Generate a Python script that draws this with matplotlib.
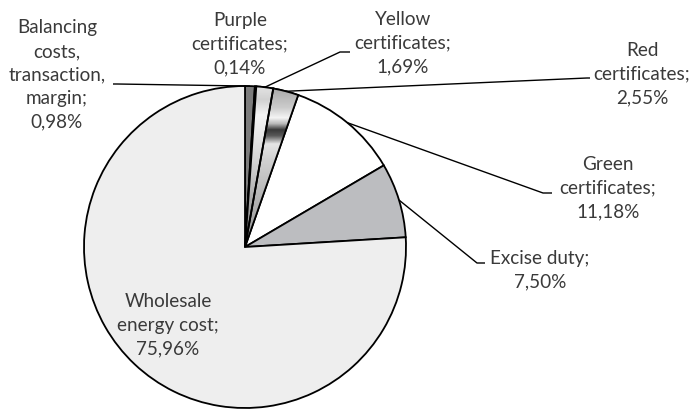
import numpy as np
import matplotlib
matplotlib.use("Agg")
import matplotlib.pyplot as plt
from matplotlib.patches import Wedge

# ---- data ----
categories = ["Balancing\ncosts,\ntransaction,\nmargin", "Purple\ncertificates",
              "Yellow\ncertificates", "Red\ncertificates", "Green\ncertificates",
              "Excise duty", "Wholesale\nenergy cost"]
values = [0.98, 0.14, 1.69, 2.55, 11.18, 7.50, 75.96]

# ---- styling / layout ----
W, H = 694, 411
colors = ["#7c7c7c", "#111111", "#e2e2e2", "#a9a9a9", "#ffffff", "#bcbdc0", "#eeeeee"]
cx, cy, R = 245, 247, 161

def P(y):
    return H - y

plt.rcParams['font.family'] = ['Lato', 'DejaVu Sans']
fig = plt.figure(figsize=(6.94, 4.11), dpi=100)
ax = fig.add_axes([0, 0, 1, 1])

wedges, _ = ax.pie(values, colors=colors, startangle=90, counterclock=False,
                   center=(cx, P(cy)), radius=R, frame=True,
                   wedgeprops=dict(edgecolor="black", linewidth=1.3))

# metallic gradients for yellow and red slices
def grad(stops, y0=80, y1=252):
    ys = np.arange(y0, y1)
    sy = [s[0] for s in stops]
    sv = [s[1] for s in stops]
    g = np.interp(ys, sy, sv)
    img = np.stack([g, g, g], axis=-1)[:, None, :]
    return img, y0, y1

grad_stops = {
    2: [(80, 0.93), (100, 0.82), (115, 0.96), (140, 0.90), (170, 0.80), (200, 0.66), (230, 0.55), (252, 0.5)],
    3: [(80, 0.60), (108, 0.80), (118, 0.96), (124, 0.72), (130, 0.22), (136, 0.35), (144, 0.90), (160, 0.82), (200, 0.70), (252, 0.58)],
}
for i, stops in grad_stops.items():
    w = wedges[i]
    img, y0, y1 = grad(stops)
    im = ax.imshow(img, extent=[cx - 5, cx + 60, P(y1), P(y0)], origin="upper",
                   aspect="auto", zorder=1.5, interpolation="bilinear")
    im.set_clip_path(w)
    ax.add_patch(Wedge((cx, P(cy)), R, w.theta1, w.theta2, fill=False,
                       ec="black", lw=1.3, zorder=2))

def pct(v):
    return f"{v:.2f}".replace(".", ",") + "%"

labels = [c + ";\n" + pct(v) for c, v in zip(categories, values)]

# label positions (pixel coords of the block centre)
label_pos = [(57, 75), (240, 44), (403, 43), (642, 74), (608, 188), (540, 270), (168, 325)]
# leader line elbows: (elbow point, end point) or None
leaders = [((117, 84), (113, 84)), None, ((340, 52), (350, 52)), ((587, 78), (590, 78)),
           ((543, 193), (552, 193)), ((477, 263), (485, 263)), None]

fs = 13.6
for i, (lab, (lx, ly)) in enumerate(zip(labels, label_pos)):
    ax.text(lx, P(ly), lab, ha="center", va="center", multialignment="center",
            fontsize=fs, color="#3a3a3a", linespacing=1.47, zorder=5)
    if leaders[i] is not None:
        w = wedges[i]
        mid = np.deg2rad((w.theta1 + w.theta2) / 2)
        sx = cx + R * np.cos(mid)
        sy = P(cy) + R * np.sin(mid)
        (ex, ey), (fx, fy) = leaders[i]
        ax.plot([sx, ex, fx], [sy, P(ey), P(fy)], color="black", lw=1.0, zorder=4,
                solid_capstyle="butt")

ax.set_xlim(0, W)
ax.set_ylim(0, H)
ax.set_aspect("auto")
ax.axis("off")
fig.savefig("out.png", dpi=100, facecolor="white")
